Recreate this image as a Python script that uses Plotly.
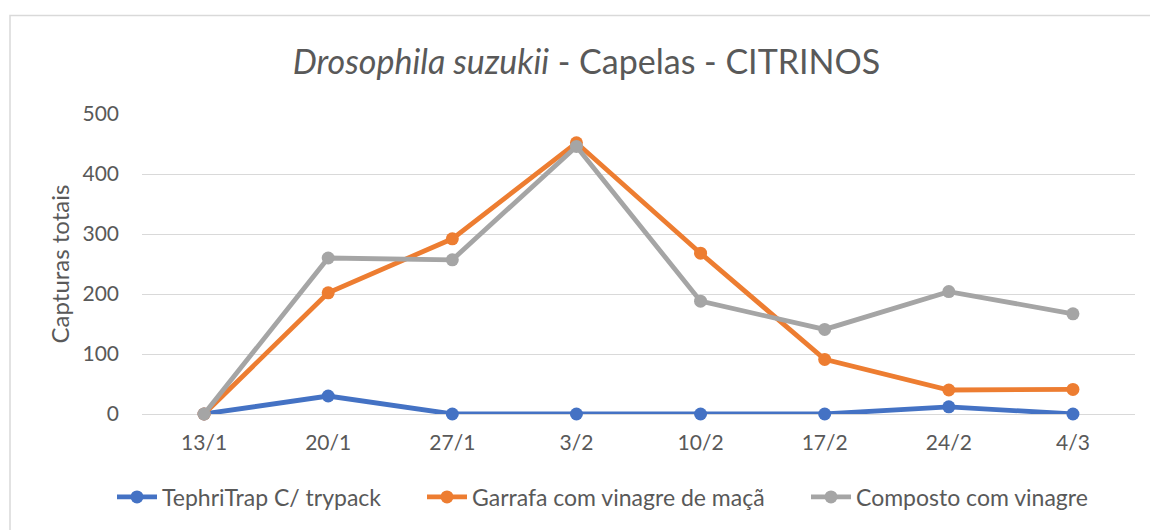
import plotly.graph_objects as go

dates = ["13/1", "20/1", "27/1", "3/2", "10/2", "17/2", "24/2", "4/3"]
tephritrap = [0, 30, 0, 0, 0, 0, 12, 0]
garrafa = [0, 202, 292, 452, 268, 91, 40, 41]
composto = [0, 260, 257, 446, 188, 141, 204, 167]

series = [
    ("TephriTrap C/ trypack", tephritrap, "#4472C4", "legend", 112),
    ("Garrafa com vinagre de maçã", garrafa, "#ED7D31", "legend2", 422),
    ("Composto com vinagre", composto, "#A5A5A5", "legend3", 806),
]

FONT = "Lato"
TXT = "#595959"
W, H = 1150, 530

fig = go.Figure()
for name, vals, col, lg, _ in series:
    fig.add_trace(go.Scatter(
        x=dates, y=vals, name=name, mode="lines+markers",
        line=dict(color=col, width=4.8),
        marker=dict(color=col, size=13),
        cliponaxis=False, legend=lg,
    ))

legends = {}
for name, vals, col, lg, lx in series:
    legends[lg] = dict(
        orientation="h", x=lx / W, xanchor="left", xref="container",
        y=1 - 497 / H, yref="container", yanchor="middle",
        font=dict(family=FONT, size=23, color=TXT),
        itemwidth=40, bgcolor="rgba(0,0,0,0)",
    )

fig.update_layout(
    width=W, height=H,
    margin=dict(l=142, r=15, t=114, b=116),
    paper_bgcolor="white", plot_bgcolor="white",
    font=dict(family=FONT, color=TXT, size=16),
    title=dict(
        text="<i>Drosophila suzukii</i> - Capelas - CITRINOS",
        x=0.51, xanchor="center", y=1 - 62 / H, yref="container", yanchor="middle",
        font=dict(family=FONT, size=34, color=TXT),
    ),
    showlegend=True,
    xaxis=dict(
        range=[-0.5, 7.5],
        showgrid=False, showline=False, zeroline=False,
        ticks="", tickfont=dict(size=21, color=TXT),
        ticklabelstandoff=14,
    ),
    yaxis=dict(
        range=[0, 500], dtick=100, tick0=0,
        showgrid=True, gridcolor="#D9D9D9", gridwidth=1,
        zeroline=True, zerolinecolor="#D9D9D9", zerolinewidth=1,
        showline=False, ticks="",
        tickfont=dict(size=21, color=TXT),
        ticklabelstandoff=22,
        title=dict(text="Capturas totais", font=dict(size=24, color=TXT), standoff=6),
    ),
    shapes=[dict(
        type="rect", xref="paper", yref="paper",
        x0=(10 - 142) / 993, x1=1.05, y0=-0.6, y1=1 + (114 - 15.5) / 300,
        line=dict(color="#D9D9D9", width=1.5), fillcolor="rgba(0,0,0,0)",
        layer="below",
    )],
    **legends,
)

fig.write_html(
    "out.html",
    config={"displayModeBar": False},
    post_script="document.body.style.margin='0';document.body.style.overflow='hidden';",
)
